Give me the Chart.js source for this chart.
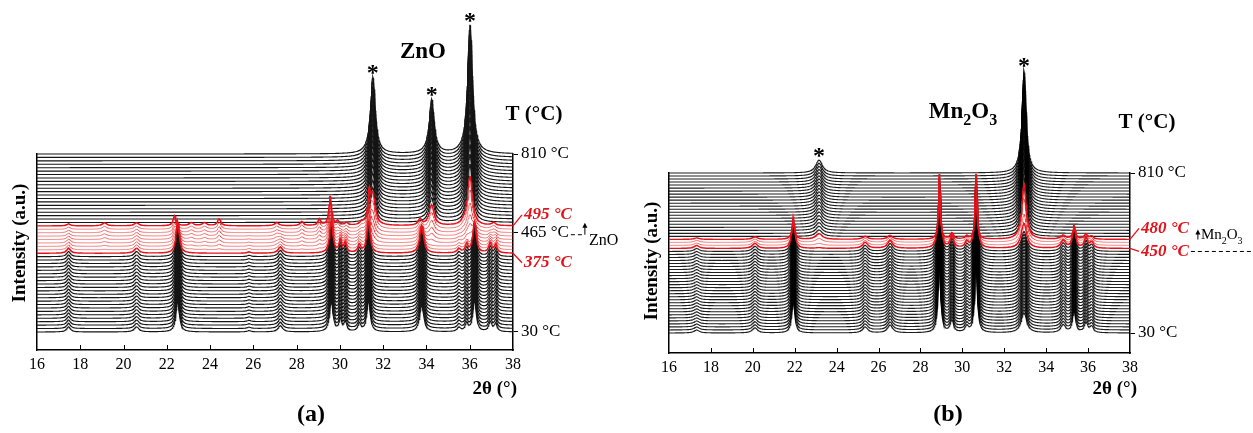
<!DOCTYPE html>
<html>
<head>
<meta charset="utf-8">
<script src="https://cdn.jsdelivr.net/npm/chart.js@4.4.1/dist/chart.umd.min.js"></script>
<style>
  body { margin: 0; background: #fff; }
  #wrap { position: relative; width: 1253px; height: 433px; }
  canvas { position: absolute; top: 0; }
  #chartA { left: 0; }
  #chartB { left: 626px; }
</style>
</head>
<body>
<div id="wrap">
  <canvas id="chartA" width="626" height="433"></canvas>
  <canvas id="chartB" width="627" height="433"></canvas>
</div>
<script>
const SERIF = '"Liberation Serif", "Times New Roman", serif';
const STEP = 10; // vertical offset between two scans (a.u.)

// ---- (a) ZnO sample: scan temperatures and phase fractions ----
const tempsA = [30,45,60,75,90,105,120,135,150,165,180,195,210,225,240,255,270,285,300,315,330,345,360,
  375,390,405,420,435,450,465,480,495,510,525,540,555,570,585,600,615,630,645,660,675,690,705,720,735,750,765,780,795,810];

// peaks: [2theta, height, fwhm]
const lowPeaksA = [
  [17.46, 15, 0.22], [20.6, 15, 0.26], [22.5, 93, 0.18], [25.8, 4, 0.2], [27.25, 18, 0.26],
  [29.6, 93, 0.18], [30.02, 35, 0.15], [30.25, 29, 0.15], [30.9, 23, 0.17], [31.32, 93, 0.18],
  [33.78, 80, 0.22], [35.5, 12, 0.2], [35.86, 23, 0.17], [36.22, 93, 0.18], [36.95, 29, 0.17], [37.2, 23, 0.17]
];
const midPeaksA = [
  [17.46, 6, 0.2], [19.12, 9, 0.25], [20.6, 9, 0.25], [22.36, 29, 0.17], [23.13, 9, 0.25], [23.74, 9, 0.25],
  [24.42, 20, 0.2], [27.08, 9, 0.25], [28.24, 12, 0.2], [29.05, 18, 0.17], [29.55, 85, 0.15], [29.9, 12, 0.17],
  [30.3, 8, 0.17], [31.0, 8, 0.17], [31.35, 80, 0.15], [33.7, 18, 0.2], [35.7, 6, 0.2], [37.1, 9, 0.2]
];
const znoPeaksA = [[31.52, 225, 0.27], [34.24, 158, 0.28], [36.01, 377, 0.27]];

const lowWeightA = [1,1,1,1,1,1,1,1,1,1,1,1,1,1,1,1,1,1,1,1,1,1,1,1,
  0.85,0.7,0.55,0.4,0.25,0.12,0.05,
  0,0,0,0,0,0,0,0,0,0,0,0,0,0,0,0,0,0,0,0,0,0];
const midWeightA = [0,0,0,0,0,0,0,0,0,0,0,0,0,0,0,0,0,0,0,0,0,0,0,0,
  0.15,0.3,0.45,0.6,0.75,0.85,0.95,1,
  0,0,0,0,0,0,0,0,0,0,0,0,0,0,0,0,0,0,0,0,0];
const znoWeightA = [0,0,0,0,0,0,0,0,0,0,0,0,0,0,0,0,0,0,0,0,0,0,0,0,0,0,
  0.05,0.1,0.15,0.22,0.3,0.38,
  0.45,0.5,0.55,0.6,0.64,0.68,0.72,0.75,0.78,0.81,0.84,0.86,0.88,0.9,0.92,0.94,0.95,0.96,0.97,0.99,1];

const redRangeA = [375, 495];
const rightTicksA = [30, 465, 810];

// ---- (b) Mn sample ----
const tempsB = [30,45,60,75,90,105,120,135,150,165,180,195,210,225,240,255,270,285,300,315,330,345,360,375,390,405,420,435,450,
  460,470,480,
  495,510,525,540,555,570,585,600,615,630,645,660,675,690,705,720,735,750,765,780,795,810];

const lowPeaksB = [
  [17.32, 10, 0.3], [20.1, 17, 0.3], [21.93, 106, 0.17], [25.36, 20, 0.3], [26.55, 26, 0.3],
  [28.9, 245, 0.14], [29.5, 40, 0.2], [30.21, 20, 0.2], [30.65, 248, 0.14], [32.94, 66, 0.32],
  [34.81, 26, 0.28], [35.33, 73, 0.17], [35.9, 33, 0.2], [36.17, 20, 0.2]
];
const mnPeaksB = [[23.16, 43, 0.38], [32.94, 341, 0.24]];

const lowWeightB = [1,1,1,1,1,1,1,1,1,1,1,1,1,1,1,1,1,1,1,1,1,1,1,1,1,1,1,1,1,
  0.8,0.65,0.5,
  0,0,0,0,0,0,0,0,0,0,0,0,0,0,0,0,0,0,0,0,0,0];
const mnWeightB = [0,0,0,0,0,0,0,0,0,0,0,0,0,0,0,0,0,0,0,0,0,0,0,0,0,0,0,0,
  0.05,0.15,0.3,0.45,
  0.5,0.55,0.6,0.64,0.68,0.72,0.75,0.78,0.81,0.84,0.86,0.88,0.9,0.92,0.93,0.94,0.95,0.96,0.97,0.98,0.99,1];

const redRangeB = [450, 480];
const rightTicksB = [30, 810];

// 2theta sampling grid
const xGrid = [];
for (let k = 0; k <= 1100; k++) xGrid.push(16 + k * 0.02);

function lorentz(x, peaks) {
  let s = 0;
  for (const [p, h, w] of peaks) {
    const d = (x - p) / (w / 2);
    s += h / (1 + d * d);
  }
  return s;
}

function traceValue(phases, i, x) {
  let y = i * STEP;
  phases.forEach(ph => {
    const w = ph.weights[i];
    if (w) y += w * lorentz(x, ph.peaks);
  });
  return y;
}

function buildDatasets(temps, phases, redRange, lineColor, lineWidth) {
  return temps.map((t, i) => {
    const bold = t === redRange[0] || t === redRange[1];
    const thin = t > redRange[0] && t < redRange[1];
    return {
      data: xGrid.map(x => ({ x: x, y: traceValue(phases, i, x) })),
      borderColor: bold ? '#e3121b' : thin ? 'rgba(232,40,40,0.65)' : lineColor,
      borderWidth: bold ? 1.4 : thin ? 0.9 : lineWidth,
      order: bold ? 0 : thin ? 1 : 2,
      pointRadius: 0,
      tension: 0,
      fill: false,
      clip: false
    };
  });
}

function text(ctx, str, x, y, font, color, align, baseline) {
  ctx.font = font;
  ctx.fillStyle = color;
  ctx.textAlign = align || 'left';
  ctx.textBaseline = baseline || 'alphabetic';
  ctx.fillText(str, x, y);
}

// chemical formula with subscript digits, e.g. Mn2O3
function formula(ctx, str, x, y, size, weight, align) {
  const parts = str.match(/[A-Za-z]+|\d+/g);
  const big = weight + ' ' + size + 'px ' + SERIF;
  const small = weight + ' ' + Math.round(size * 0.68) + 'px ' + SERIF;
  let total = 0;
  parts.forEach(p => { ctx.font = /\d/.test(p) ? small : big; total += ctx.measureText(p).width; });
  let cx = align === 'center' ? x - total / 2 : x;
  parts.forEach(p => {
    const sub = /\d/.test(p);
    ctx.font = sub ? small : big;
    ctx.fillStyle = '#000';
    ctx.textAlign = 'left';
    ctx.textBaseline = 'alphabetic';
    ctx.fillText(p, cx, sub ? y + size * 0.3 : y);
    cx += ctx.measureText(p).width;
  });
  return cx;
}

function makePanel(p) {
  const phases = p.phases;
  const last = p.temps.length - 1;

  const notes = {
    id: 'notes',
    afterDraw(chart) {
      const ctx = chart.ctx, xs = chart.scales.x, ys = chart.scales.y, area = chart.chartArea;
      ctx.save();

      // inward ticks on the 2theta axis
      ctx.strokeStyle = '#000';
      ctx.lineWidth = 1;
      for (let v = 18; v <= 36; v += 2) {
        const px = Math.round(xs.getPixelForValue(v)) + 0.5;
        ctx.beginPath();
        ctx.moveTo(px, area.bottom);
        ctx.lineTo(px, area.bottom - 5);
        ctx.stroke();
      }

      // asterisks over the peaks of the final phase
      p.starPeaks.forEach(([pos]) => {
        let top = -Infinity;
        p.temps.forEach((t, i) => { top = Math.max(top, traceValue(phases, i, pos)); });
        text(ctx, '*', xs.getPixelForValue(pos), ys.getPixelForValue(top) + 3, 'bold 24px ' + SERIF, '#000', 'center');
      });

      // axis titles and panel letter
      text(ctx, '2\u03B8 (\u00B0)', p.xTitle[0], p.xTitle[1], 'bold 19px ' + SERIF, '#000', 'right');
      text(ctx, p.letter, p.letterPos[0], p.letterPos[1], 'bold 24px ' + SERIF, '#000', 'center');
      ctx.save();
      ctx.translate(p.yTitle[0], p.yTitle[1]);
      ctx.rotate(-Math.PI / 2);
      text(ctx, 'Intensity (a.u.)', 0, 0, 'bold 19px ' + SERIF, '#000', 'center', 'middle');
      ctx.restore();
      text(ctx, 'T (\u00B0C)', p.tTitle[0], p.tTitle[1], 'bold 21px ' + SERIF, '#000', 'center');
      formula(ctx, p.phaseName, p.phasePos[0], p.phasePos[1], 23, 'bold', 'center');

      // red temperature labels with leader lines
      let lastEnd = 0;
      p.redLabels.forEach(([t, dy]) => {
        const ty = ys.getPixelForValue(p.temps.indexOf(t) * STEP);
        ctx.strokeStyle = '#e3121b';
        ctx.lineWidth = 1.3;
        ctx.beginPath();
        ctx.moveTo(area.right, ty);
        ctx.lineTo(area.right + 9, ty + dy);
        ctx.stroke();
        const str = t + ' \u00B0C';
        text(ctx, str, area.right + 11, ty + dy, 'italic bold 17px ' + SERIF, '#e3121b', 'left', 'middle');
        lastEnd = { x: area.right + 11 + ctx.measureText(str).width, y: ty + dy };
      });

      if (p.extra) p.extra(ctx, chart, lastEnd);
      ctx.restore();
    }
  };

  new Chart(document.getElementById(p.canvas), {
    type: 'line',
    data: { datasets: buildDatasets(p.temps, phases, p.redRange, p.lineColor, p.lineWidth) },
    options: {
      responsive: false,
      animation: false,
      events: [],
      parsing: false,
      normalized: true,
      layout: { padding: { top: p.top, left: 0, right: 0, bottom: 0 } },
      plugins: { legend: { display: false }, tooltip: { enabled: false } },
      scales: {
        x: {
          type: 'linear', min: 16, max: 38,
          grid: { display: false },
          border: { display: true, color: '#000', width: 1.5 },
          ticks: { stepSize: 2, padding: -3, color: '#000', font: { family: SERIF, size: 16 } },
          afterFit: s => { s.height = p.bottom; }
        },
        y: {
          type: 'linear', position: 'left', min: p.yMin, max: last * STEP,
          grid: { display: false },
          border: { display: true, color: '#000', width: 1.5 },
          ticks: { display: false },
          afterFit: s => { s.width = p.left; }
        },
        y2: {
          type: 'linear', position: 'right', min: p.yMin, max: last * STEP,
          grid: { display: true, drawOnChartArea: false, drawTicks: true, tickLength: 5, color: '#000', lineWidth: 1 },
          border: { display: true, color: '#000', width: 1.5 },
          afterBuildTicks: s => { s.ticks = p.rightTicks.map(t => ({ value: p.temps.indexOf(t) * STEP })); },
          ticks: {
            padding: 3, color: '#000', font: { family: SERIF, size: 17 },
            callback: v => p.temps[Math.round(v / STEP)] + ' \u00B0C'
          },
          afterFit: s => { s.width = p.right; }
        }
      }
    },
    plugins: [notes]
  });
}

makePanel({
  canvas: 'chartA', temps: tempsA, redRange: redRangeA, rightTicks: rightTicksA,
  phases: [
    { peaks: lowPeaksA, weights: lowWeightA },
    { peaks: midPeaksA, weights: midWeightA },
    { peaks: znoPeaksA, weights: znoWeightA }
  ],
  starPeaks: znoPeaksA,
  lineColor: '#151515', lineWidth: 1.1,
  yMin: -52.6, top: 154, bottom: 83, left: 37, right: 113,
  redLabels: [[495, -11], [375, 9.5]],
  phaseName: 'ZnO', phasePos: [423, 58],
  tTitle: [534, 120], xTitle: [517, 394], yTitle: [20, 243],
  letter: '(a)', letterPos: [311, 421],
  extra(ctx, chart) {
    // "- -> ZnO" marker next to the 465 °C tick
    const ys = chart.scales.y, area = chart.chartArea;
    const ty = ys.getPixelForValue(tempsA.indexOf(465) * STEP) + 2;
    ctx.font = '17px ' + SERIF;
    const x0 = area.right + 8 + ctx.measureText('465 \u00B0C').width + 2;
    ctx.strokeStyle = '#000';
    ctx.lineWidth = 1;
    ctx.setLineDash([4, 3]);
    ctx.beginPath();
    ctx.moveTo(x0, ty);
    ctx.lineTo(x0 + 12, ty);
    ctx.stroke();
    ctx.setLineDash([]);
    ctx.beginPath();
    ctx.moveTo(x0 + 14, ty);
    ctx.lineTo(x0 + 14, ty - 10);
    ctx.stroke();
    ctx.fillStyle = '#000';
    ctx.beginPath();
    ctx.moveTo(x0 + 14, ty - 12);
    ctx.lineTo(x0 + 11.5, ty - 7);
    ctx.lineTo(x0 + 16.5, ty - 7);
    ctx.closePath();
    ctx.fill();
    text(ctx, 'ZnO', x0 + 18, ty + 10, '16px ' + SERIF, '#000', 'left');
  }
});

makePanel({
  canvas: 'chartB', temps: tempsB, redRange: redRangeB, rightTicks: rightTicksB,
  phases: [
    { peaks: lowPeaksB, weights: lowWeightB },
    { peaks: mnPeaksB, weights: mnWeightB }
  ],
  starPeaks: mnPeaksB,
  lineColor: 'rgba(0,0,0,0.88)', lineWidth: 1.1,
  yMin: -66.2, top: 173, bottom: 80, left: 43, right: 123,
  redLabels: [[480, -11], [450, 3]],
  phaseName: 'Mn2O3', phasePos: [337, 118],
  tTitle: [521, 128], xTitle: [511, 394], yTitle: [26, 261],
  letter: '(b)', letterPos: [322, 421],
  extra(ctx, chart, end) {
    // dashed phase boundary and Mn2O3 arrow
    ctx.strokeStyle = '#000';
    ctx.lineWidth = 1;
    ctx.setLineDash([4, 3]);
    ctx.beginPath();
    ctx.moveTo(end.x + 2, end.y);
    ctx.lineTo(627, end.y);
    ctx.stroke();
    ctx.setLineDash([]);
    const ax = end.x + 9, ay = end.y - 12;
    ctx.beginPath();
    ctx.moveTo(ax, ay);
    ctx.lineTo(ax, ay - 8);
    ctx.stroke();
    ctx.fillStyle = '#000';
    ctx.beginPath();
    ctx.moveTo(ax, ay - 10);
    ctx.lineTo(ax - 2.5, ay - 5);
    ctx.lineTo(ax + 2.5, ay - 5);
    ctx.closePath();
    ctx.fill();
    formula(ctx, 'Mn2O3', ax + 3, ay, 15, 'normal', 'left');
  }
});
</script>
</body>
</html>
